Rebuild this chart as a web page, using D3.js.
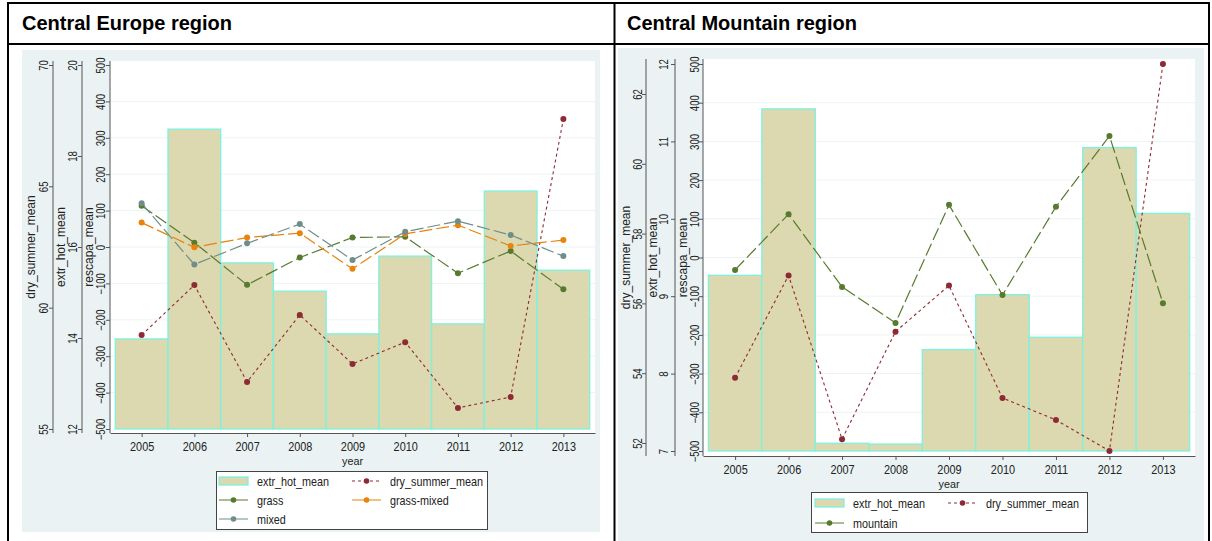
<!DOCTYPE html>
<html>
<head>
<meta charset="utf-8">
<script src="https://cdn.jsdelivr.net/npm/d3@7"></script>
<style>
  html, body { margin: 0; padding: 0; background: #ffffff; }
  svg { display: block; font-family: "Liberation Sans", Arial, Helvetica, sans-serif; }
</style>
</head>
<body>
<svg id="chart" width="1212" height="541"></svg>
<script>
// ---------------- DATA ----------------
const years = [2005, 2006, 2007, 2008, 2009, 2010, 2011, 2012, 2013];
const rescapaTicks = [-500, -400, -300, -200, -100, 0, 100, 200, 300, 400, 500];

// Central Europe region
const ceExtrHot    = [13.98, 18.59, 15.65, 15.03, 14.09, 15.80, 14.31, 17.23, 15.49];
const ceDrySummer  = [58.87, 60.93, 56.94, 59.70, 57.68, 58.58, 55.87, 56.32, 67.77];
const ceGrass      = [113, 12, -104, -29, 26, 28, -72, -11, -116];
const ceGrassMixed = [67, -1, 26, 38, -60, 36, 60, 3, 19];
const ceMixed      = [120, -48, 10, 63, -36, 42, 71, 33, -25];
const ceDryTicks   = [55, 60, 65, 70];
const ceHotTicks   = [12, 14, 16, 18, 20];

// Central Mountain region
const cmExtrHot    = [9.27, 11.42, 7.10, 7.09, 8.31, 9.02, 8.47, 10.92, 10.07];
const cmDrySummer  = [53.87, 56.80, 52.11, 55.19, 56.51, 53.29, 52.66, 51.77, 62.86];
const cmMountain   = [-32, 112, -76, -169, 136, -97, 131, 314, -118];
const cmDryTicks   = [52, 54, 56, 58, 60, 62];
const cmDryLimits  = [51.77, 62.86];
const cmHotTicks   = [7, 8, 9, 10, 11, 12];

const titles = ["Central Europe region", "Central Mountain region"];

// ---------------- STYLE ----------------
const FONT = '"Liberation Sans", Arial, Helvetica, sans-serif';
const C = {
  panel: "#EAF2F3", grid: "#EDF3F3", axis: "#555555", text: "#222222",
  barFill: "#DCD8AF", barStroke: "#7CF2DF",
  dry: "#8E2A35", grass: "#587A2F", grassMixed: "#E8830E", mixed: "#6F8E8A"
};
const DASH_LONG = "13,4", DASH_SHORT = "3,3";

const svg = d3.select("#chart");

function txt(g, x, y, s, o = {}) {
  const t = g.append("text").text(s)
    .attr("font-family", FONT)
    .attr("font-size", o.size || 12)
    .attr("fill", o.fill || C.text)
    .attr("text-anchor", o.anchor || "start");
  if (o.weight) t.attr("font-weight", o.weight);
  let tr = `translate(${x},${y})`;
  if (o.rot) tr += ` rotate(${o.rot})`;
  if (o.sx && o.sx !== 1) tr += ` scale(${o.sx},1)`;
  t.attr("transform", tr);
  return t;
}

// ---------------- TABLE FRAME ----------------
const frame = svg.append("g").attr("stroke", "#000").attr("stroke-width", 2);
frame.append("line").attr("x1", 7).attr("x2", 1210).attr("y1", 3).attr("y2", 3);
frame.append("line").attr("x1", 7).attr("x2", 1210).attr("y1", 44).attr("y2", 44);
frame.append("line").attr("x1", 8).attr("x2", 8).attr("y1", 2).attr("y2", 541);
frame.append("line").attr("x1", 614.5).attr("x2", 614.5).attr("y1", 2).attr("y2", 541);
frame.append("line").attr("x1", 1209).attr("x2", 1209).attr("y1", 2).attr("y2", 541);

txt(svg, 22, 30, titles[0], { size: 20, weight: "bold", fill: "#000" });
txt(svg, 627, 30, titles[1], { size: 20, weight: "bold", fill: "#000" });

// ---------------- CHART ----------------
function drawChart(o) {
  const g = svg.append("g");
  g.append("rect").attr("x", o.panel[0]).attr("y", o.panel[1])
    .attr("width", o.panel[2] - o.panel[0]).attr("height", o.panel[3] - o.panel[1])
    .attr("fill", C.panel);
  g.append("rect").attr("x", o.plot.l).attr("y", o.plot.t)
    .attr("width", o.plot.r - o.plot.l).attr("height", o.plot.b - o.plot.t)
    .attr("fill", "#fff");

  const x = d3.scaleLinear().domain([2004.4, 2013.6]).range([o.plot.l, o.plot.r]);
  const yR = d3.scaleLinear().domain(d3.extent(rescapaTicks)).range([o.yb, o.yt]);
  const yH = d3.scaleLinear().domain(d3.extent(o.hotTicks)).range([o.yb, o.yt]);
  const yD = d3.scaleLinear().domain(o.dryDomain).range([o.yb, o.yt]);

  // gridlines
  g.append("g").selectAll("line")
    .data(rescapaTicks.filter(v => v > -500 && v < 500))
    .join("line")
    .attr("x1", o.plot.l).attr("x2", o.plot.r)
    .attr("y1", d => yR(d)).attr("y2", d => yR(d))
    .attr("stroke", C.grid).attr("stroke-width", 1);

  // bars (extr_hot_mean)
  const base = yH.domain()[0];
  g.append("g").selectAll("rect")
    .data(o.hot)
    .join("rect")
    .attr("x", (d, i) => x(years[i] - 0.5))
    .attr("width", (d, i) => x(years[i] + 0.5) - x(years[i] - 0.5))
    .attr("y", d => yH(d))
    .attr("height", d => yH(base) - yH(d))
    .attr("fill", C.barFill).attr("stroke", C.barStroke).attr("stroke-width", 1.3);

  // lines
  const series = [{ values: o.dry, scale: yD, color: C.dry, dash: DASH_SHORT, w: 1.1 }]
    .concat(o.lines.map(s => ({ values: s.values, scale: yR, color: s.color, dash: DASH_LONG, w: 1.2 })));
  series.forEach(s => {
    const line = d3.line().x((d, i) => x(years[i])).y(d => s.scale(d));
    g.append("path").datum(s.values).attr("d", line)
      .attr("fill", "none").attr("stroke", s.color)
      .attr("stroke-width", s.w).attr("stroke-dasharray", s.dash);
  });
  series.forEach(s => {
    g.append("g").selectAll("circle").data(s.values).join("circle")
      .attr("cx", (d, i) => x(years[i])).attr("cy", d => s.scale(d))
      .attr("r", 3).attr("fill", s.color);
  });

  // y axes
  function yAxis(scale, ticks, ax, lab, titleOff, title) {
    const a = d3.axisLeft(scale).tickValues(ticks).tickFormat(d3.format("~g"))
      .tickSize(4).tickSizeOuter(0);
    const ag = g.append("g").attr("transform", `translate(${ax},0)`).call(a);
    ag.attr("font-family", null).attr("font-size", null);
    ag.select(".domain").remove();
    ag.selectAll(".tick line").attr("stroke", C.axis);
    ag.selectAll(".tick text")
      .attr("x", null).attr("dy", null)
      .attr("text-anchor", "middle")
      .attr("font-family", FONT).attr("font-size", 12).attr("fill", C.text)
      .attr("transform", `translate(${-lab},0) rotate(-90) scale(0.8,1)`);
    g.append("line").attr("x1", ax).attr("x2", ax)
      .attr("y1", o.plot.t).attr("y2", o.plot.b)
      .attr("stroke", C.axis).attr("stroke-width", 1);
    txt(g, ax - titleOff, (o.yt + o.yb) / 2, title, { size: 12, rot: -90, anchor: "middle" });
  }
  yAxis(yD, o.dryTicks, o.ax.dry, o.lab.dry, o.tt.dry, "dry_summer_mean");
  yAxis(yH, o.hotTicks, o.ax.hot, o.lab.hot, o.tt.hot, "extr_hot_mean");
  yAxis(yR, rescapaTicks, o.ax.res, o.lab.res, o.tt.res, "rescapa_mean");

  // x axis
  const xa = d3.axisBottom(x).tickValues(years).tickFormat(d3.format("d")).tickSize(4).tickSizeOuter(0);
  const xg = g.append("g").attr("transform", `translate(0,${o.plot.b})`).call(xa);
  xg.attr("font-family", null).attr("font-size", null);
  xg.select(".domain").attr("stroke", C.axis);
  xg.selectAll(".tick line").attr("stroke", C.axis);
  xg.selectAll(".tick text")
    .attr("y", 18.5).attr("dy", null)
    .attr("font-family", FONT).attr("font-size", 13).attr("fill", C.text)
    .attr("transform", "scale(0.84,1)");
  txt(g, (o.plot.l + o.plot.r) / 2, o.plot.b + 31.5, "year", { size: 11.5, anchor: "middle", sx: 0.94 });

  // legend
  const L = o.legend;
  g.append("rect").attr("x", L.x + 0.5).attr("y", L.y + 0.5)
    .attr("width", L.w).attr("height", L.h)
    .attr("fill", "#fff").attr("stroke", "#444").attr("stroke-width", 1);
  L.rows.forEach((row, r) => {
    row.forEach((it, c) => {
      const kx = L.x + L.colX[c];
      const ky = L.y + L.row0 + r * L.rowH;
      if (it.type === "bar") {
        g.append("rect").attr("x", kx).attr("y", ky - 4).attr("width", 29).attr("height", 8)
          .attr("fill", C.barFill).attr("stroke", C.barStroke).attr("stroke-width", 1.3);
      } else {
        g.append("line").attr("x1", kx).attr("x2", kx + 29).attr("y1", ky).attr("y2", ky)
          .attr("stroke", it.color).attr("stroke-width", 1.1).attr("stroke-dasharray", it.dash);
        g.append("circle").attr("cx", kx + 14.5).attr("cy", ky).attr("r", 2.8).attr("fill", it.color);
      }
      txt(g, kx + 38, ky + 4.5, it.label, { size: 12, sx: 0.9 });
    });
  });
}

drawChart({
  panel: [22, 50, 600, 532],
  plot: { l: 110, r: 595, t: 61, b: 433 },
  yt: 65, yb: 429,
  hot: ceExtrHot, hotTicks: ceHotTicks,
  dry: ceDrySummer, dryTicks: ceDryTicks, dryDomain: d3.extent(ceDryTicks),
  lines: [
    { values: ceGrass, color: C.grass },
    { values: ceGrassMixed, color: C.grassMixed },
    { values: ceMixed, color: C.mixed }
  ],
  ax: { dry: 53, hot: 82, res: 110 },
  lab: { dry: 5, hot: 5, res: 5 },
  tt: { dry: 18, hot: 17, res: 17 },
  legend: {
    x: 216, y: 471, w: 271, h: 58, row0: 10, rowH: 19, colX: [3, 136],
    rows: [
      [{ type: "bar", label: "extr_hot_mean" }, { type: "line", label: "dry_summer_mean", color: C.dry, dash: DASH_SHORT }],
      [{ type: "line", label: "grass", color: C.grass, dash: DASH_LONG }, { type: "line", label: "grass-mixed", color: C.grassMixed, dash: DASH_LONG }],
      [{ type: "line", label: "mixed", color: C.mixed, dash: DASH_LONG }]
    ]
  }
});

drawChart({
  panel: [618, 48, 1204, 541],
  plot: { l: 703, r: 1195, t: 59, b: 456 },
  yt: 64, yb: 451,
  hot: cmExtrHot, hotTicks: cmHotTicks,
  dry: cmDrySummer, dryTicks: cmDryTicks, dryDomain: cmDryLimits,
  lines: [
    { values: cmMountain, color: C.grass }
  ],
  ax: { dry: 646, hot: 675, res: 703 },
  lab: { dry: 4, hot: 7, res: 4 },
  tt: { dry: 16, hot: 18, res: 16 },
  legend: {
    x: 811, y: 492, w: 276, h: 40, row0: 11, rowH: 20, colX: [4, 137],
    rows: [
      [{ type: "bar", label: "extr_hot_mean" }, { type: "line", label: "dry_summer_mean", color: C.dry, dash: DASH_SHORT }],
      [{ type: "line", label: "mountain", color: C.grass, dash: DASH_LONG }]
    ]
  }
});
</script>
</body>
</html>
